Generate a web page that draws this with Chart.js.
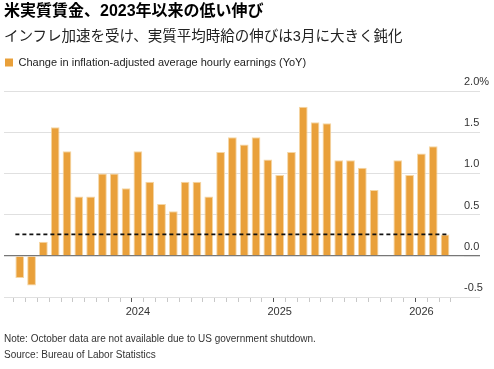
<!DOCTYPE html>
<html>
<head>
<meta charset="utf-8">
<script src="https://cdn.jsdelivr.net/npm/chart.js@4.4.1/dist/chart.umd.min.js"></script>
<style>
html,body{margin:0;padding:0;background:#fff;}
#wrap{position:relative;width:494px;height:369px;overflow:hidden;font-family:"Liberation Sans","Noto Sans CJK JP",sans-serif;}
#c{position:absolute;left:0;top:0;width:494px;height:369px;}
.t{position:absolute;left:4px;white-space:nowrap;line-height:1.2;}
#title{top:1px;font-size:16px;font-weight:bold;color:#000;}
#sub{top:28px;font-size:14.5px;color:#222;}
#note{top:333px;font-size:10px;color:#333;}
#src{top:349px;font-size:10px;color:#333;}
</style>
</head>
<body>
<div id="wrap">
<canvas id="c" width="494" height="369"></canvas>
<div class="t" id="title">米実質賃金、2023年以来の低い伸び</div>
<div class="t" id="sub">インフレ加速を受け、実質平均時給の伸びは3月に大きく鈍化</div>
<div class="t" id="note">Note: October data are not available due to US government shutdown.</div>
<div class="t" id="src">Source: Bureau of Labor Statistics</div>
</div>
<script>
const seriesName = "Change in inflation-adjusted average hourly earnings (YoY)";
const months = [
  "2023-03","2023-04","2023-05","2023-06","2023-07","2023-08","2023-09","2023-10","2023-11","2023-12",
  "2024-01","2024-02","2024-03","2024-04","2024-05","2024-06","2024-07","2024-08","2024-09","2024-10","2024-11","2024-12",
  "2025-01","2025-02","2025-03","2025-04","2025-05","2025-06","2025-07","2025-08","2025-09","2025-10","2025-11","2025-12",
  "2026-01","2026-02","2026-03"
];
const values = [
  -0.27,-0.36,0.17,1.56,1.27,0.72,0.72,1.00,1.00,0.82,
  1.27,0.90,0.63,0.54,0.90,0.90,0.72,1.26,1.44,1.35,1.44,1.17,
  0.98,1.26,1.81,1.62,1.61,1.16,1.16,1.07,0.80,null,1.16,0.98,
  1.24,1.33,0.26
];
const yTicks = [-0.5, 0, 0.5, 1.0, 1.5, 2.0];
const yTickLabels = ["-0.5","0.0","0.5","1.0","1.5","2.0%"];

const isJan = i => months[i] && months[i].endsWith("-01");

const refLine = {
  id: 'refLine',
  afterDatasetsDraw(chart) {
    const meta = chart.getDatasetMeta(0);
    const els = meta.data.filter((e, i) => values[i] !== null);
    if (!els.length) return;
    const first = els[0], last = els[els.length - 1];
    const y = chart.scales.y.getPixelForValue(values[values.length - 1]);
    const ctx = chart.ctx;
    ctx.save();
    ctx.strokeStyle = '#111';
    ctx.lineWidth = 1.7;
    ctx.setLineDash([4, 3]);
    ctx.beginPath();
    ctx.moveTo(first.x - first.width / 2, y);
    ctx.lineTo(last.x + last.width / 2, y);
    ctx.stroke();
    ctx.restore();
  }
};

const legendSpace = {
  id: 'legendSpace',
  beforeLayout(chart) {
    const lg = chart.legend;
    if (lg && !lg._patched) {
      const orig = lg.fit;
      lg.fit = function() { orig.call(this); this.height = 35; };
      lg._patched = true;
    }
  }
};

const gridColor = ctx => (ctx.tick && ctx.tick.value === 0) ? '#777' : '#e0e0e0';
const gridWidth = ctx => (ctx.tick && ctx.tick.value === 0) ? 1.3 : 1;

new Chart(document.getElementById('c'), {
  type: 'bar',
  data: {
    datasets: [{
      label: seriesName,
      data: months.map((m, i) => ({ x: i, y: values[i] })),
      backgroundColor: '#E9A03A',
      borderColor: '#F5D6A4',
      borderWidth: 1,
      barPercentage: 1,
      categoryPercentage: 0.74
    }]
  },
  options: {
    responsive: false,
    animation: false,
    events: [],
    layout: { padding: { left: 4, right: 0, top: 56, bottom: 0 } },
    plugins: {
      tooltip: { enabled: false },
      legend: {
        display: true,
        position: 'top',
        align: 'start',
        labels: {
          boxWidth: 8, boxHeight: 8, padding: 1,
          color: '#222',
          font: { family: '"Liberation Sans", Arial, sans-serif', size: 11 },
          generateLabels(chart) {
            const items = Chart.defaults.plugins.legend.labels.generateLabels(chart);
            items.forEach(it => { it.lineWidth = 0; it.strokeStyle = 'rgba(0,0,0,0)'; });
            return items;
          }
        }
      }
    },
    scales: {
      x: {
        type: 'linear',
        min: -0.807,
        max: 37.08,
        afterBuildTicks(s) { s.ticks = months.map((m, i) => ({ value: i })); },
        afterFit(s) { s.height = 72; },
        ticks: {
          autoSkip: false, maxRotation: 0, minRotation: 0, padding: 3,
          color: '#333',
          font: { family: '"Liberation Sans", Arial, sans-serif', size: 11 },
          callback: (v, i) => isJan(i) ? months[i].slice(0, 4) : ''
        },
        grid: {
          drawOnChartArea: false, drawTicks: true, tickLength: 5,
          tickColor: ctx => isJan(ctx.index) ? '#555' : '#c8c8c8',
          tickWidth: 1
        },
        border: { display: false }
      },
      y: {
        position: 'right',
        min: -0.5,
        max: 2.0,
        afterBuildTicks(s) { s.ticks = yTicks.map(v => ({ value: v })); },
        afterFit(s) { s.width = 30; },
        ticks: {
          padding: -16, crossAlign: 'near', labelOffset: -9,
          color: '#333',
          font: { family: '"Liberation Sans", Arial, sans-serif', size: 11 },
          callback: (v, i) => yTickLabels[i]
        },
        grid: {
          drawTicks: true,
          tickLength: 16,
          color: gridColor,
          lineWidth: gridWidth,
          tickColor: gridColor,
          tickWidth: gridWidth
        },
        border: { display: false }
      }
    }
  },
  plugins: [refLine, legendSpace]
});
</script>
</body>
</html>
